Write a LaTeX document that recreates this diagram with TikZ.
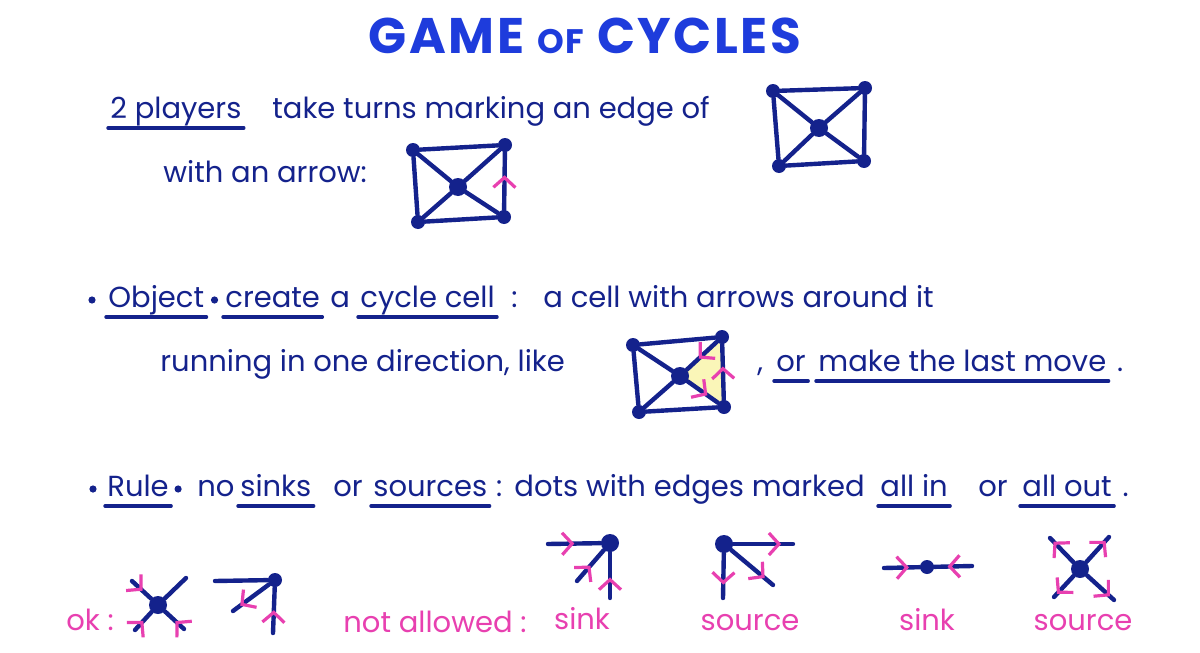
\documentclass[tikz,border=0pt]{standalone}
\usepackage{fontspec}
\setmainfont{Poppins}
\usetikzlibrary{arrows.meta,decorations.markings}
\definecolor{Ink}{HTML}{14228C}
\definecolor{Heading}{HTML}{1E3CDC}
\definecolor{Marker}{HTML}{E840B0}
\definecolor{Hilite}{HTML}{FAF6B8}

\begin{document}
\begin{tikzpicture}[x=0.5pt,y=-0.5pt,
  txt/.style={anchor=base west,inner sep=0pt,text=Ink,font=\fontsize{14.5}{17}\selectfont},
  lbl/.style={txt,text=Marker},
  ul/.style={draw=Ink,line width=1.7pt,line cap=round},
  link/.style={draw=Ink,line width=2.2pt,line cap=round,line join=round},
  vtx/.style={circle,fill=Ink,inner sep=0pt,minimum size=7pt},
  hub/.style={vtx,minimum size=9pt},
  tipat/.style={postaction={decorate,decoration={markings,mark=at position #1 with {\arrow{Straight Barb[color=Marker,line width=1.6pt,length=5pt,width=11pt]}}}}}]
\fill[white] (0,0) rectangle (1200,653);
\node[anchor=base,inner sep=0pt,text=Heading,font=\fontsize{25}{30}\selectfont\bfseries\addfontfeatures{LetterSpace=5}] (title) at (585,54) {GAME {\fontsize{17}{20}\selectfont OF} CYCLES};
\node[txt] (players) at (110,118) {2 players};\node[txt] (turns) at (272,118) {take turns marking an edge of};
\node[txt] (witharrow) at (163,182) {with an arrow:};
\node[vtx] (a1) at (773,91) {};\node[vtx] (b1) at (865,88) {};\node[vtx] (c1) at (864,161) {};\node[vtx] (d1) at (779,166) {};\node[hub] (m1) at (819,128) {};
\draw[link] (a1)--(b1)--(c1)--(d1)--(a1) (a1)--(m1)--(c1) (b1)--(m1)--(d1);
\node[vtx] (a2) at (413,150) {};\node[vtx] (b2) at (505,145) {};\node[vtx] (c2) at (504,217) {};\node[vtx] (d2) at (418,222) {};\node[hub] (m2) at (458,187) {};
\draw[link] (b2)--(a2)--(d2)--(c2) (a2)--(m2)--(c2) (b2)--(m2)--(d2);\draw[link,tipat=0.6] (c2)--(b2);
\node[txt] (object) at (108,307) {Object};\node[txt] (create) at (225,307) {create};\node[txt] (a) at (330,307) {a};
\node[txt] (cyclecell) at (360,307) {cycle cell};\node[txt] (colon1) at (511,307) {:};\node[txt] (acell) at (543,307) {a cell with arrows around it};
\fill[Ink] (92,300) circle (1.8pt) ([xshift=5pt,yshift=3.5pt]object.base east) circle (1.8pt);
\node[txt] (running) at (160,371) {running in one direction, like};
\fill[Hilite] (680,376)--(722,337)--(724,407)--cycle;
\node[vtx] (a3) at (633,345) {};\node[vtx] (b3) at (722,337) {};\node[vtx] (c3) at (724,407) {};\node[vtx] (d3) at (639,412) {};\node[hub] (m3) at (680,376) {};
\draw[link] (b3)--(a3)--(d3)--(c3) (a3)--(m3)--(d3);
\draw[link,tipat=0.65] (m3)--(c3);\draw[link,tipat=0.6] (c3)--(b3);\draw[link,tipat=0.6] (b3)--(m3);
\node[txt] (comma) at (757,371) {,};\node[txt] (or1) at (776,371) {or};\node[txt] (lastmove) at (818,371) {make the last move};
\node[txt] (period1) at ([xshift=5pt]lastmove.base east) {.};
\node[txt] (rule) at (107,496) {Rule};\node[txt] (no) at (197,496) {no};\node[txt] (sinks) at (240,496) {sinks};\node[txt] (or2) at (333,496) {or};
\node[txt] (sources) at (373,496) {sources};\node[txt] (colon2) at ([xshift=4pt]sources.base east) {:};\node[txt] (dots) at (514,496) {dots with edges marked};
\node[txt] (allin) at (880,496) {all in};\node[txt] (or3) at (978,496) {or};\node[txt] (allout) at (1022,496) {all out};\node[txt] (period2) at ([xshift=5pt]allout.base east) {.};
\fill[Ink] (93,489) circle (1.8pt) ([xshift=4.5pt,yshift=3.5pt]rule.base east) circle (1.8pt);
\foreach \n in {players,object,create,cyclecell,or1,lastmove,rule,sinks,sources,allin,allout}
  \draw[ul] ([xshift=-1pt,yshift=-5pt]\n.base west)--([xshift=1pt,yshift=-5pt]\n.base east);
\node[lbl] (ok) at (66,630) {ok :};
\node[hub] (o1) at (158,605) {};\coordinate (p1) at (132,581);\coordinate (p2) at (186,578);\coordinate (p3) at (135,630);\coordinate (p4) at (184,629);
\draw[link] (o1)--(p2);\draw[link,tipat=0.55] (p1)--(o1);\draw[link,tipat=0.5] (p3)--(o1);\draw[link,tipat=0.45] (p4)--(o1);
\node[vtx] (o2) at (275,580) {};\coordinate (q1) at (215,581);\coordinate (q2) at (273,633);\coordinate (q3) at (233,611);
\draw[link] (q1)--(o2);\draw[link,tipat=0.8] (o2)--(q3);\draw[link,tipat=0.5] (q2)--(o2);
\node[lbl] (notallowed) at (343,632) {not allowed :};
\node[hub] (s1) at (610,543) {};\coordinate (r1) at (548,544);\coordinate (r2) at (577,581);\coordinate (r3) at (610,598);
\draw[link,tipat=0.5] (r1)--(s1);\draw[link,tipat=0.5] (r2)--(s1);\draw[link,tipat=0.45] (r3)--(s1);
\node[lbl,anchor=base] (sink1) at (582,629) {sink};
\node[hub] (s2) at (724,544) {};\coordinate (t1) at (793,544);\coordinate (t2) at (773,585);\coordinate (t3) at (723,598);
\draw[link,tipat=0.8] (s2)--(t1);\draw[link,tipat=0.8] (s2)--(t2);\draw[link,tipat=0.7] (s2)--(t3);
\node[lbl,anchor=base] (source1) at (750,630) {source};
\node[vtx] (s3) at (927,567) {};\coordinate (e1) at (884,568);\coordinate (e2) at (972,566);
\draw[link,tipat=0.7] (e1)--(s3);\draw[link,tipat=0.65] (e2)--(s3);
\node[lbl,anchor=base] (sink2) at (927,630) {sink};
\node[hub] (s4) at (1080,569) {};\coordinate (f1) at (1050,538);\coordinate (f2) at (1109,537);\coordinate (f3) at (1054,597);\coordinate (f4) at (1114,600);
\draw[link,tipat=0.85] (s4)--(f1);\draw[link,tipat=0.85] (s4)--(f2);\draw[link,tipat=0.85] (s4)--(f3);\draw[link,tipat=0.85] (s4)--(f4);
\node[lbl,anchor=base] (source2) at (1083,630) {source};
\end{tikzpicture}
\end{document}
